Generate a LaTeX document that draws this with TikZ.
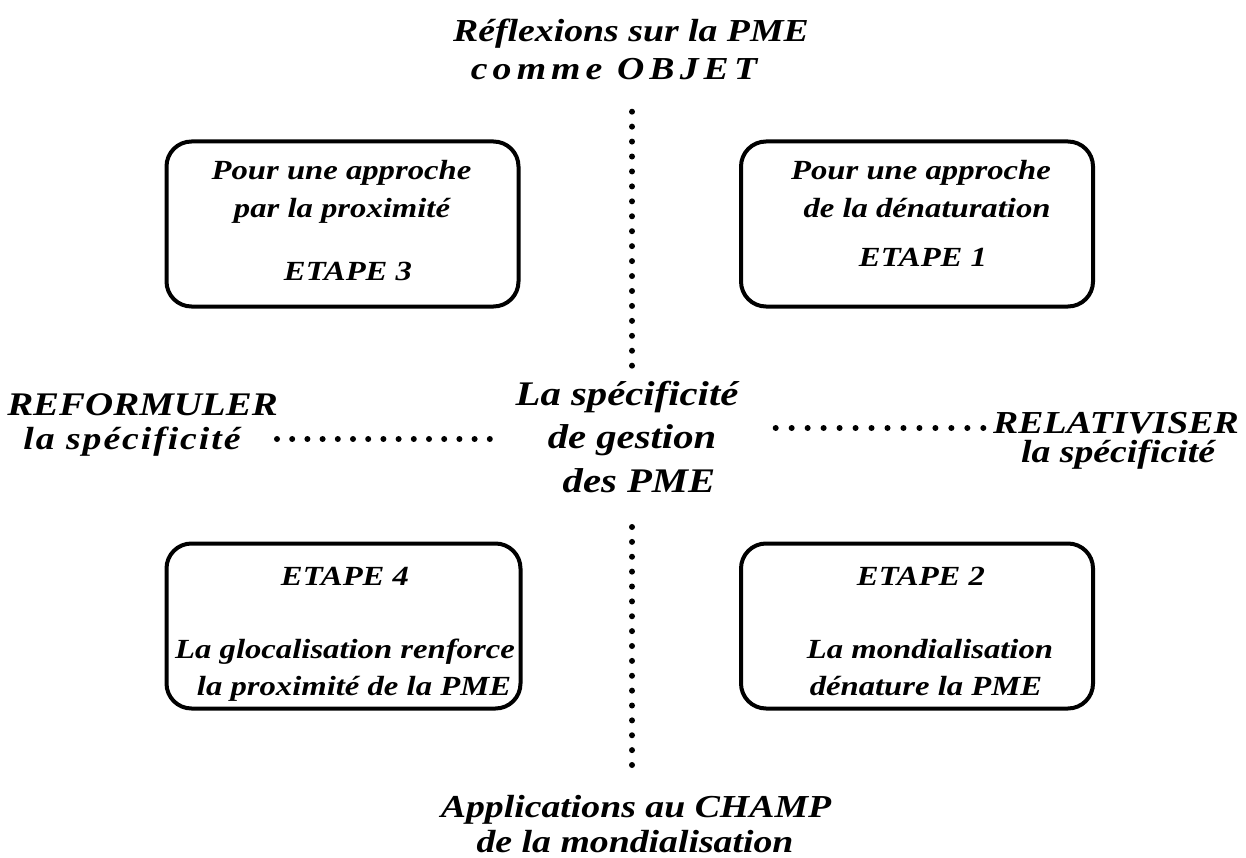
\documentclass[tikz,border=0pt]{standalone}
\usepackage{fontspec}
\newfontfamily\tnr[FakeStretch=1.18]{Liberation Serif}
\begin{document}
\begin{tikzpicture}[x=1pt,y=-1pt,
  lbl/.style={font=\tnr\bfseries\itshape\fontsize{32}{38}\selectfont, inner sep=0pt, anchor=base},
  btxt/.style={font=\tnr\bfseries\itshape\fontsize{27.7}{33}\selectfont, inner sep=0pt, anchor=base},
  ctxt/.style={font=\tnr\bfseries\itshape\fontsize{34.5}{40}\selectfont, inner sep=0pt, anchor=base},
  stagebox/.style={draw, line width=4pt, rounded corners=25pt, minimum width=352pt, minimum height=165pt, inner sep=0pt},
  dotline/.style={line width=6pt, line cap=round, dash pattern=on 0pt off #1},
]
\useasboundingbox (0,0) rectangle (1246,858);

% title
\node[lbl] (t1) at (631,42) {Réflexions sur la PME};
\node[lbl, font=\tnr\bfseries\itshape\fontsize{32}{38}\selectfont\addfontfeature{LetterSpace=16}] (t2) at (614,80) {comme OBJET};

% bottom
\node[lbl] (b1) at (636,817) {Applications au CHAMP};
\node[lbl] (b2) at (635,852) {de la mondialisation};

% centre
\node[ctxt] (c1) at (627,405) {La spécificité};
\node[ctxt] (c2) at (632,448) {de gestion};
\node[ctxt] (c3) at (639,492) {des PME};

% left / right labels
\node[lbl, font=\tnr\bfseries\itshape\fontsize{33}{38}\selectfont] (l1) at (142.5,415) {REFORMULER};
\node[lbl, font=\tnr\bfseries\itshape\fontsize{32}{38}\selectfont\addfontfeature{LetterSpace=6}] (l2) at (132,449) {la spécificité};
\node[lbl, anchor=base west] (r1) at (993,433) {RELATIVISER};
\node[lbl] (r2) at (1118,462) {la spécificité};

% boxes
\node[stagebox] (s3) at (342.5,224) {};
\node[stagebox] (s1) at (917,224) {};
\node[stagebox, minimum width=354pt] (s4) at (343.5,626) {};
\node[stagebox] (s2) at (917,626) {};

% box texts
\node[btxt] (s3a) at (341.5,180) {Pour une approche};
\node[btxt] (s3b) at (342,218) {par la proximité};
\node[btxt] (s3c) at (348,280) {ETAPE 3};

\node[btxt] (s1a) at (921,180) {Pour une approche};
\node[btxt] (s1b) at (927,218) {de la dénaturation};
\node[btxt] (s1c) at (923,267) {ETAPE 1};

\node[btxt] (s4a) at (345,585) {ETAPE 4};
\node[btxt] (s4b) at (345,658) {La glocalisation renforce};
\node[btxt] (s4c) at (354,695) {la proximité de la PME};

\node[btxt] (s2a) at (921,585) {ETAPE 2};
\node[btxt] (s2b) at (930,658) {La mondialisation};
\node[btxt] (s2c) at (926,695) {dénature la PME};

% dotted connectors
\coordinate (vt0) at (632,111.7);
\coordinate (vt1) at (632,366.2);
\coordinate (vb0) at (632,527);
\coordinate (vb1) at (632,765.5);
\coordinate (hl0) at (277,439);
\coordinate (hl1) at (490.3,439);
\coordinate (hr0) at (775.7,428);
\coordinate (hr1) at (983.8,428);
\draw[dotline=14.94pt] (vt0) -- (vt1);
\draw[dotline=14.875pt] (vb0) -- (vb1);
\draw[dotline=15.2pt] (hl0) -- (hl1);
\draw[dotline=15.97pt] (hr0) -- (hr1);
\end{tikzpicture}
\end{document}
